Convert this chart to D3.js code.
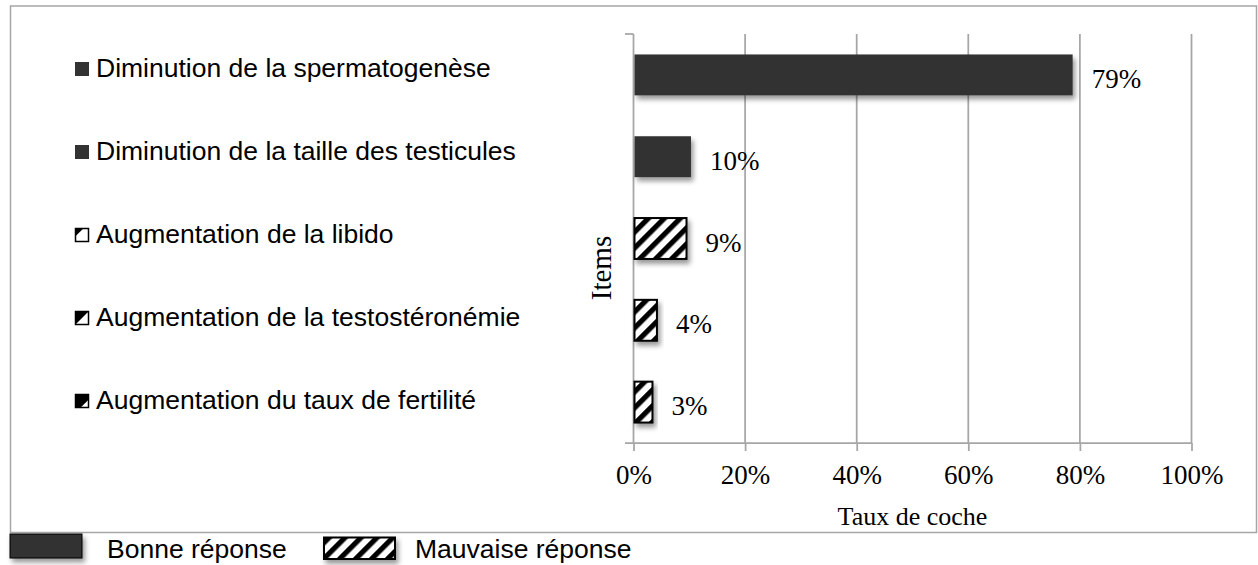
<!DOCTYPE html>
<html><head><meta charset="utf-8">
<script src="https://cdn.jsdelivr.net/npm/d3@7"></script>
<style>body{margin:0;background:#fff}svg{display:block}</style>
</head><body>
<svg id="c" width="1258" height="565"></svg>
<script>
const categories = ["Diminution de la spermatogenèse","Diminution de la taille des testicules","Augmentation de la libido","Augmentation de la testostéronémie","Augmentation du taux de fertilité"];
const values = [78.7, 10.3, 9.5, 4.2, 3.4];
const valueLabels = ["79%","10%","9%","4%","3%"];
const answerType = ["bonne","bonne","mauvaise","mauvaise","mauvaise"];
const xTicks = [0,20,40,60,80,100];
const legendNames = ["Bonne réponse","Mauvaise réponse"];

const svg = d3.select("#c");
const defs = svg.append("defs");
const pat = defs.append("pattern").attr("id","hatch").attr("patternUnits","userSpaceOnUse")
  .attr("width",11.3).attr("height",11.3).attr("patternTransform","rotate(45)");
pat.append("rect").attr("width",11.3).attr("height",11.3).attr("fill","#fff");
pat.append("rect").attr("width",5.2).attr("height",11.3).attr("fill","#000");
const f = defs.append("filter").attr("id","sh").attr("x","-20%").attr("y","-20%").attr("width","150%").attr("height","160%");
f.append("feDropShadow").attr("dx",2.5).attr("dy",4).attr("stdDeviation",2.5).attr("flood-color","#000").attr("flood-opacity",0.4);

// outer frame
svg.append("rect").attr("x",10.5).attr("y",6).attr("width",1246).attr("height",526.5)
  .attr("fill","none").attr("stroke","#a6a6a6").attr("stroke-width",1.5);

const x = d3.scaleLinear().domain([0,100]).range([633.5,1191.5]);
const y = d3.scaleBand().domain(categories).range([34,443]).paddingInner(0.5).paddingOuter(0.25);
const gray = "#a6a6a6";

// gridlines
svg.append("g").selectAll("line").data(xTicks.slice(1)).join("line")
  .attr("x1",d=>x(d)).attr("x2",d=>x(d)).attr("y1",34).attr("y2",443)
  .attr("stroke",gray).attr("stroke-width",1.75);

// x axis
const xAxis = svg.append("g").attr("transform","translate(0,443)")
  .call(d3.axisBottom(x).tickValues(xTicks).tickSize(8).tickPadding(14).tickFormat(d=>d+"%"));
xAxis.select(".domain").attr("d","M625,0H"+x(100)).attr("stroke",gray).attr("stroke-width",1.75);
xAxis.selectAll(".tick line").attr("stroke",gray).attr("stroke-width",1.75);
xAxis.selectAll(".tick text").attr("font-family","'Liberation Serif', serif").attr("font-size",27).attr("fill","#000");

// y axis line + top tick
svg.append("line").attr("x1",x(0)).attr("x2",x(0)).attr("y1",34).attr("y2",443).attr("stroke",gray).attr("stroke-width",1.75);
svg.append("path").attr("d",`M625,34H${x(0)}`).attr("stroke",gray).attr("stroke-width",1.75);

// bars
svg.append("g").selectAll("rect").data(categories).join("rect")
  .attr("x",x(0)+1).attr("y",d=>y(d)).attr("height",y.bandwidth())
  .attr("width",(d,i)=>x(values[i])-x(0)-1)
  .attr("fill",(d,i)=>answerType[i]==="bonne"?"#333333":"url(#hatch)")
  .attr("stroke",(d,i)=>answerType[i]==="bonne"?"none":"#000")
  .attr("stroke-width",2)
  .attr("filter","url(#sh)");

// value labels
svg.append("g").selectAll("text").data(categories).join("text")
  .attr("x",(d,i)=>x(values[i])+19).attr("y",d=>y(d)+y.bandwidth()/2+13)
  .attr("font-family","'Liberation Serif', serif").attr("font-size",27).attr("fill","#000")
  .text((d,i)=>valueLabels[i]);

// axis titles
svg.append("text").attr("x",(x(0)+x(100))/2).attr("y",525).attr("text-anchor","middle")
  .attr("font-family","'Liberation Serif', serif").attr("font-size",26).text("Taux de coche");
svg.append("text").attr("transform","translate(611,268) rotate(-90)").attr("text-anchor","middle")
  .attr("font-family","'Liberation Serif', serif").attr("font-size",29).text("Items");

// left category legend
const leg = svg.append("g").selectAll("g").data(categories).join("g")
  .attr("transform",(d,i)=>`translate(75,${77+i*83})`);
leg.append("text").attr("x",21).attr("y",0)
  .attr("font-family","'Liberation Sans', Arial, sans-serif").attr("font-size",26.5).attr("fill","#000").text(d=>d);
const s = 13;
const tri = [0.6, 1.0, 1.4];
leg.each(function(d,i){
  const g = d3.select(this).append("g").attr("transform","translate(0,-15)");
  if(answerType[i]==="bonne"){
    g.append("rect").attr("width",s+1).attr("height",s+1).attr("fill","#333");
  } else {
    const t = tri[i-2]*s;
    let pts;
    if(t<=s) pts=[[0,0],[t,0],[0,t]];
    else pts=[[0,0],[s,0],[s,t-s],[t-s,s],[0,s]];
    g.append("rect").attr("x",0.5).attr("y",0.5).attr("width",s).attr("height",s).attr("fill","#fff");
    g.append("polygon").attr("points",pts.map(p=>[p[0]+0.5,p[1]+0.5].join(",")).join(" ")).attr("fill","#000");
    g.append("rect").attr("x",0.5).attr("y",0.5).attr("width",s).attr("height",s).attr("fill","none").attr("stroke","#000").attr("stroke-width",1.5);
  }
});

// bottom legend
const bl = svg.append("g");
bl.append("rect").attr("x",10).attr("y",534).attr("width",72).attr("height",24)
  .attr("fill","#333").attr("stroke","#000").attr("stroke-width",1).attr("filter","url(#sh)");
bl.append("text").attr("x",107).attr("y",558).attr("font-family","'Liberation Sans', Arial, sans-serif")
  .attr("font-size",26.5).text(legendNames[0]);
bl.append("rect").attr("x",324).attr("y",537.5).attr("width",71).attr("height",21.5)
  .attr("fill","url(#hatch)").attr("stroke","#000").attr("stroke-width",2).attr("filter","url(#sh)");
bl.append("text").attr("x",415).attr("y",558).attr("font-family","'Liberation Sans', Arial, sans-serif")
  .attr("font-size",26.5).text(legendNames[1]);
</script>
</body></html>
